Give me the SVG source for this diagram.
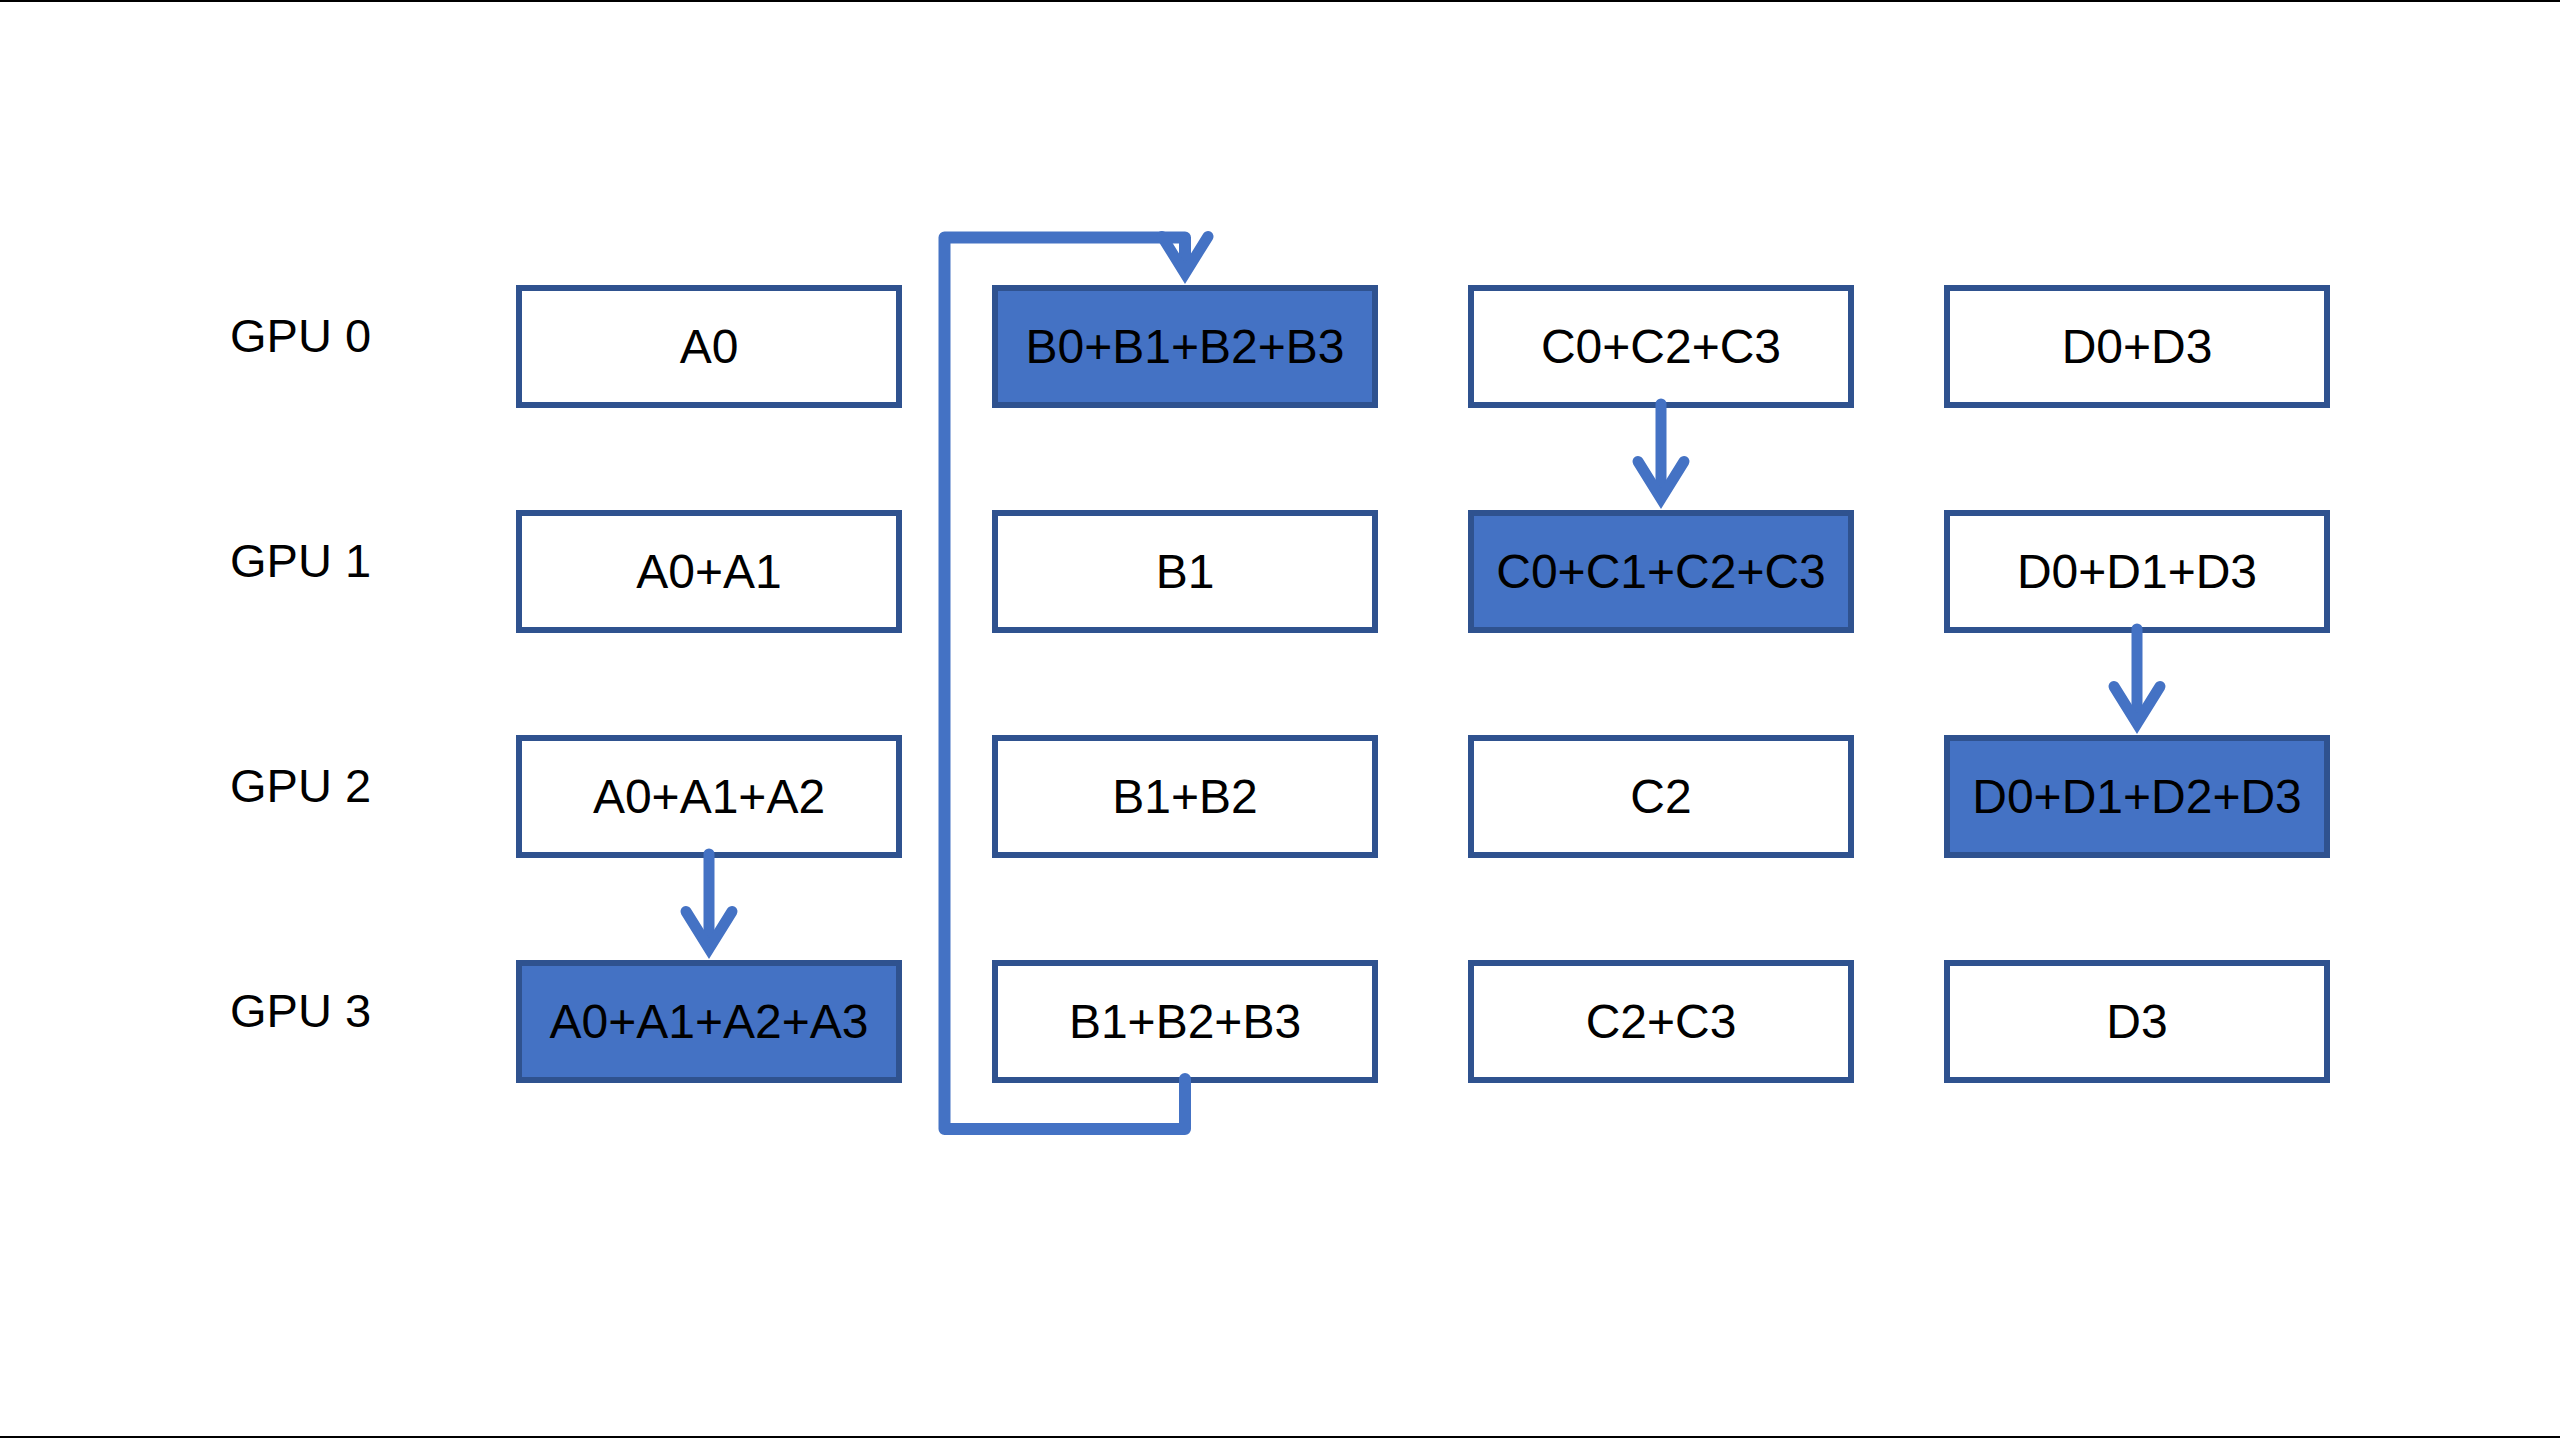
<svg xmlns="http://www.w3.org/2000/svg" width="2560" height="1438" viewBox="0 0 2560 1438">
<style>
.bg{fill:#ffffff}
.frame{fill:#000000}
.box{fill:#ffffff;stroke:#2F528F;stroke-width:6}
.hl{fill:#4472C4;stroke:#2F528F;stroke-width:6}
.t{font-family:"Liberation Sans",Arial,sans-serif;font-size:48px;fill:#000000;text-anchor:middle}
.lbl{font-family:"Liberation Sans",Arial,sans-serif;font-size:47px;fill:#000000}
.conn{fill:none;stroke:#4472C4;stroke-linecap:round;stroke-linejoin:round}
</style>
<defs>
<marker id="vhead" markerUnits="userSpaceOnUse" viewBox="-60 -40 80 80" markerWidth="80" markerHeight="80" refX="-4" refY="0" orient="auto" overflow="visible">
<path d="M -37 -23 L 0 0 L -37 23" fill="none" stroke="#4472C4" stroke-width="11" stroke-linecap="round" stroke-linejoin="miter" stroke-miterlimit="10"/>
</marker>
</defs>
<rect class="bg" x="0" y="0" width="2560" height="1438"/>
<rect class="frame" x="0" y="0" width="2560" height="2"/>
<rect class="frame" x="0" y="1436" width="2560" height="2"/>

<g id="labels">
<text class="lbl" x="230" y="352">GPU 0</text>
<text class="lbl" x="230" y="577">GPU 1</text>
<text class="lbl" x="230" y="802">GPU 2</text>
<text class="lbl" x="230" y="1027">GPU 3</text>
</g>

<g id="nodeA0"><rect class="box" x="519" y="288" width="380" height="117"/><text class="t" x="709" y="363">A0</text></g>
<g id="nodeA1"><rect class="box" x="519" y="513" width="380" height="117"/><text class="t" x="709" y="588">A0+A1</text></g>
<g id="nodeA2"><rect class="box" x="519" y="738" width="380" height="117"/><text class="t" x="709" y="813">A0+A1+A2</text></g>
<g id="nodeA3"><rect class="hl" x="519" y="963" width="380" height="117"/><text class="t" x="709" y="1038">A0+A1+A2+A3</text></g>

<g id="nodeB0"><rect class="hl" x="995" y="288" width="380" height="117"/><text class="t" x="1185" y="363">B0+B1+B2+B3</text></g>
<g id="nodeB1"><rect class="box" x="995" y="513" width="380" height="117"/><text class="t" x="1185" y="588">B1</text></g>
<g id="nodeB2"><rect class="box" x="995" y="738" width="380" height="117"/><text class="t" x="1185" y="813">B1+B2</text></g>
<g id="nodeB3"><rect class="box" x="995" y="963" width="380" height="117"/><text class="t" x="1185" y="1038">B1+B2+B3</text></g>

<g id="nodeC0"><rect class="box" x="1471" y="288" width="380" height="117"/><text class="t" x="1661" y="363">C0+C2+C3</text></g>
<g id="nodeC1"><rect class="hl" x="1471" y="513" width="380" height="117"/><text class="t" x="1661" y="588">C0+C1+C2+C3</text></g>
<g id="nodeC2"><rect class="box" x="1471" y="738" width="380" height="117"/><text class="t" x="1661" y="813">C2</text></g>
<g id="nodeC3"><rect class="box" x="1471" y="963" width="380" height="117"/><text class="t" x="1661" y="1038">C2+C3</text></g>

<g id="nodeD0"><rect class="box" x="1947" y="288" width="380" height="117"/><text class="t" x="2137" y="363">D0+D3</text></g>
<g id="nodeD1"><rect class="box" x="1947" y="513" width="380" height="117"/><text class="t" x="2137" y="588">D0+D1+D3</text></g>
<g id="nodeD2"><rect class="hl" x="1947" y="738" width="380" height="117"/><text class="t" x="2137" y="813">D0+D1+D2+D3</text></g>
<g id="nodeD3"><rect class="box" x="1947" y="963" width="380" height="117"/><text class="t" x="2137" y="1038">D3</text></g>

<g id="connectors">
<path class="conn" stroke-width="11" d="M 709 854 L 709 944.5" marker-end="url(#vhead)"/>
<path class="conn" stroke-width="11" d="M 1661 404 L 1661 494.5" marker-end="url(#vhead)"/>
<path class="conn" stroke-width="11" d="M 2137 629 L 2137 719.5" marker-end="url(#vhead)"/>
<path class="conn" stroke-width="12" d="M 1185 1079 L 1185 1129 L 944.5 1129 L 944.5 237.5 L 1185 237.5 L 1185 269.5" marker-end="url(#vhead)"/>
</g>
</svg>
